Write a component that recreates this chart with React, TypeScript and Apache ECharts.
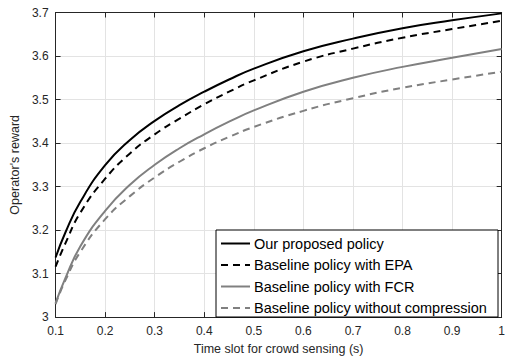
import React, { useEffect, useRef } from "react";
import * as echarts from "echarts";

const xs = [0.1, 0.12, 0.15, 0.2, 0.25, 0.3, 0.35, 0.4, 0.45, 0.5, 0.6, 0.7, 0.8, 0.9, 1.0];
const proposed = [3.137, 3.195, 3.265, 3.349, 3.407, 3.451, 3.487, 3.518, 3.546, 3.571, 3.611, 3.64, 3.664, 3.682, 3.698];
const epa = [3.116, 3.17, 3.24, 3.318, 3.376, 3.42, 3.456, 3.489, 3.518, 3.544, 3.587, 3.617, 3.642, 3.662, 3.681];
const fcr = [3.032, 3.09, 3.163, 3.244, 3.304, 3.35, 3.388, 3.42, 3.449, 3.475, 3.518, 3.55, 3.575, 3.596, 3.616];
const noComp = [3.03, 3.085, 3.15, 3.225, 3.278, 3.321, 3.357, 3.388, 3.414, 3.437, 3.474, 3.503, 3.527, 3.546, 3.564];

const seriesNames = [
  "Our proposed policy",
  "Baseline policy with EPA",
  "Baseline policy with FCR",
  "Baseline policy without compression",
];

const FONT = "Liberation Sans, Arial, Helvetica, sans-serif";
const AXIS_COLOR = "#262626";

export default function App() {
  const ref = useRef<HTMLDivElement>(null);
  useEffect(() => {
    if (!ref.current) return;
    const chart = echarts.init(ref.current, undefined, { renderer: "svg" });
    const fmt = (v: number) => String(Math.round(v * 10) / 10);
    const pair = (ys: number[]) => xs.map((x, i) => [x, ys[i]]);
    const mk = (name: string, ys: number[], color: string, dashed: boolean) => ({
      name,
      type: "line",
      data: pair(ys),
      symbol: "none",
      smooth: 0.5,
      xAxisIndex: 0,
      yAxisIndex: 0,
      lineStyle: { color, width: 2, type: dashed ? [7, 5] : "solid" },
      itemStyle: { color },
    });
    const baseX = { type: "value", min: 0.1, max: 1, interval: 0.1 };
    const baseY = { type: "value", min: 3, max: 3.7, interval: 0.1 };
    const line = { show: true, onZero: false, lineStyle: { color: AXIS_COLOR, width: 1 } };
    const tick = { show: true, inside: true, length: 5, lineStyle: { color: AXIS_COLOR } };
    chart.setOption({
      animation: false,
      grid: { left: 40, right: 1, top: 12.5, bottom: 36.7, containLabel: false },
      xAxis: [
        {
          ...baseX,
          position: "bottom",
          name: "Time slot for crowd sensing (s)",
          nameLocation: "middle",
          nameGap: 23,
          nameTextStyle: { fontFamily: FONT, fontSize: 12.5, color: AXIS_COLOR },
          axisLine: line,
          axisTick: tick,
          axisLabel: { formatter: fmt, fontFamily: FONT, fontSize: 12, color: AXIS_COLOR, margin: 8 },
          splitLine: { show: true, lineStyle: { color: "#e3e3e3", width: 1 } },
        },
        {
          ...baseX,
          position: "top",
          axisLine: line,
          axisTick: tick,
          axisLabel: { show: false },
          splitLine: { show: false },
        },
      ],
      yAxis: [
        {
          ...baseY,
          position: "left",
          name: "Operator's reward",
          nameLocation: "middle",
          nameGap: 24,
          nameTextStyle: { fontFamily: FONT, fontSize: 12.5, color: AXIS_COLOR },
          axisLine: line,
          axisTick: tick,
          axisLabel: { formatter: fmt, fontFamily: FONT, fontSize: 12, color: AXIS_COLOR, margin: 7 },
          splitLine: { show: true, lineStyle: { color: "#e3e3e3", width: 1 } },
        },
        {
          ...baseY,
          position: "right",
          axisLine: line,
          axisTick: tick,
          axisLabel: { show: false },
          splitLine: { show: false },
        },
      ],
      graphic: [
        {
          type: "rect",
          z: 100,
          shape: { x: 216, y: 230, width: 282, height: 87 },
          style: { fill: "#ffffff", stroke: "#000000", lineWidth: 1 },
        },
      ],
      legend: {
        z: 110,
        orient: "vertical",
        left: 220,
        top: 236,
        padding: 0,
        itemWidth: 29,
        itemHeight: 14,
        itemGap: 6.5,
        data: seriesNames,
        itemStyle: { opacity: 0 },
        textStyle: { fontFamily: FONT, fontSize: 14.5, color: "#000000", padding: [0, 0, 0, -1] },
      },
      series: [
        mk(seriesNames[0], proposed, "#000000", false),
        mk(seriesNames[1], epa, "#000000", true),
        mk(seriesNames[2], fcr, "#808080", false),
        mk(seriesNames[3], noComp, "#808080", true),
      ],
    });
    return () => chart.dispose();
  }, []);
  return (
    <div
      ref={ref}
      style={{ position: "absolute", left: 0, top: 0, width: 508, height: 360, background: "#fff" }}
    />
  );
}
